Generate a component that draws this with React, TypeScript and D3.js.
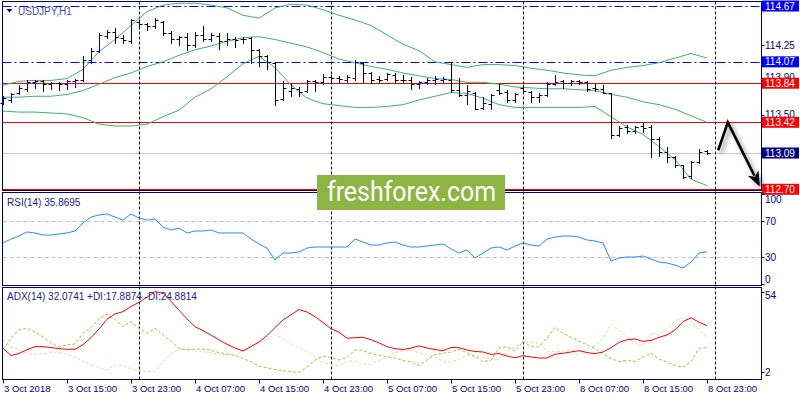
import React from "react";
import * as d3 from "d3";

// ---------- DATA ----------
const tickLabels = ["3 Oct 2018", "3 Oct 15:00", "3 Oct 23:00", "4 Oct 07:00", "4 Oct 15:00", "4 Oct 23:00", "5 Oct 07:00", "5 Oct 15:00", "5 Oct 23:00", "8 Oct 07:00", "8 Oct 15:00", "8 Oct 23:00"];
const tickBars = [0, 8, 16, 24, 32, 40, 48, 56, 64, 72, 80, 88];
const daySeparatorBars = [17, 41, 65, 89];

const opens = [113.63,113.66,113.73,113.78,113.85,113.86,113.83,113.84,113.83,113.86,
113.87,114.09,114.19,114.35,114.39,114.33,114.29,114.50,114.48,114.45,
114.50,114.38,114.31,114.34,114.25,114.36,114.31,114.35,114.29,114.31,
114.32,114.33,114.20,114.13,114.06,113.67,113.76,113.78,113.76,113.86,
113.85,113.91,113.90,113.88,113.90,114.06,113.95,113.89,113.89,113.93,
113.88,113.88,113.83,113.85,113.87,113.87,113.88,113.77,113.71,113.74,
113.57,113.62,113.77,113.75,113.66,113.79,113.75,113.69,113.71,113.83,
113.86,113.84,113.86,113.85,113.79,113.78,113.74,113.28,113.37,113.33,
113.38,113.37,113.24,113.10,113.05,112.96,112.84,112.99,113.11];
const highs = [113.70,113.74,113.82,113.87,113.88,113.87,113.85,113.85,113.88,113.89,
114.13,114.22,114.38,114.41,114.43,114.36,114.53,114.52,114.49,114.54,
114.51,114.40,114.35,114.38,114.39,114.45,114.38,114.38,114.38,114.34,
114.34,114.34,114.21,114.14,114.07,113.86,113.83,113.80,113.88,113.88,
113.94,113.93,113.92,113.93,114.09,114.07,113.96,113.92,113.95,113.95,
113.93,113.91,113.86,113.90,113.92,113.91,114.07,113.90,113.82,113.75,
113.69,113.72,113.83,113.77,113.73,113.82,113.76,113.73,113.85,113.93,
113.87,113.88,113.87,113.86,113.83,113.82,113.74,113.38,113.39,113.38,
113.41,113.39,113.26,113.15,113.06,112.96,113.00,113.13,113.12];
const lows = [113.62,113.64,113.72,113.76,113.79,113.76,113.78,113.77,113.78,113.80,
113.86,114.06,114.18,114.33,114.27,114.27,114.27,114.43,114.41,114.43,
114.36,114.27,114.25,114.20,114.23,114.29,114.29,114.21,114.25,114.23,
114.27,114.06,114.02,113.99,113.61,113.66,113.70,113.70,113.75,113.76,
113.83,113.85,113.85,113.85,113.88,113.85,113.84,113.85,113.88,113.85,
113.85,113.78,113.79,113.83,113.83,113.85,113.75,113.70,113.62,113.56,
113.56,113.56,113.72,113.64,113.64,113.73,113.64,113.64,113.70,113.82,
113.79,113.82,113.83,113.76,113.76,113.73,113.25,113.27,113.31,113.31,
113.32,113.05,113.06,112.99,112.94,112.82,112.82,112.98,113.08];
const closes = [113.68,113.72,113.79,113.85,113.86,113.83,113.84,113.83,113.86,113.88,
114.09,114.19,114.36,114.39,114.34,114.30,114.52,114.48,114.46,114.52,
114.38,114.31,114.34,114.25,114.36,114.31,114.36,114.29,114.31,114.30,
114.31,114.20,114.13,114.07,113.66,113.79,113.79,113.75,113.86,113.85,
113.91,113.90,113.89,113.91,114.07,113.95,113.88,113.88,113.94,113.87,
113.87,113.83,113.85,113.88,113.89,113.89,113.77,113.71,113.76,113.56,
113.63,113.71,113.73,113.66,113.72,113.76,113.69,113.71,113.83,113.85,
113.84,113.86,113.85,113.78,113.78,113.74,113.28,113.36,113.33,113.37,
113.36,113.24,113.10,113.05,112.96,112.83,112.99,113.10,113.09];

// Bollinger bands, read every 2nd bar
const bbBars = d3.range(0, 89, 2);
const bbUpper = [113.82,113.86,113.87,113.87,113.89,113.99,114.18,114.31,114.46,114.61,
114.68,114.70,114.70,114.68,114.65,114.57,114.54,114.65,114.69,114.68,
114.63,114.57,114.52,114.46,114.36,114.26,114.19,114.07,114.04,114.01,
114.04,114.04,114.03,114.00,113.98,113.95,113.93,113.92,113.98,114.01,
114.03,114.06,114.11,114.16,114.11];
const bbMiddle = [113.69,113.69,113.70,113.70,113.72,113.76,113.83,113.90,113.95,114.02,
114.07,114.14,114.20,114.24,114.29,114.33,114.34,114.31,114.27,114.23,
114.17,114.10,114.06,114.02,113.99,113.95,113.92,113.89,113.88,113.85,
113.85,113.83,113.80,113.79,113.78,113.78,113.77,113.76,113.72,113.69,
113.64,113.61,113.56,113.49,113.42];
const bbLower = [113.54,113.53,113.53,113.52,113.51,113.47,113.40,113.38,113.38,113.40,
113.48,113.55,113.69,113.78,113.91,114.05,114.13,114.01,113.82,113.68,
113.62,113.60,113.58,113.58,113.59,113.61,113.66,113.70,113.74,113.73,
113.68,113.61,113.58,113.58,113.58,113.58,113.58,113.59,113.48,113.37,
113.29,113.16,113.02,112.81,112.74];

const rsi = [45.6,50.0,53.3,57.8,56.7,54.4,54.4,55.6,56.7,58.9,
67.8,74.4,76.7,77.8,74.4,71.1,77.8,73.3,71.1,72.2,
63.3,60.0,62.2,56.7,58.9,58.9,60.0,56.7,56.7,56.7,
56.7,50.0,44.4,40.0,26.7,34.4,34.4,35.6,40.0,41.1,
41.1,41.1,41.1,41.1,50.0,46.7,43.3,43.3,45.6,46.7,
43.3,41.1,41.1,42.2,43.3,44.4,38.9,34.4,37.8,28.9,
34.4,40.0,41.1,37.8,42.2,45.6,43.3,42.2,50.0,52.2,
53.3,53.3,52.2,48.9,47.8,45.6,25.6,28.9,30.0,30.0,
31.1,27.8,24.4,23.3,21.1,17.8,24.4,34.4,35.87];

const adx = [17.47,12.83,14.12,16.57,18.50,18.50,17.92,17.28,16.83,16.83,
19.79,24.31,29.92,36.17,39.59,41.07,44.42,47.07,50.42,54.0,
53.0,47.71,41.97,36.43,31.40,28.82,25.98,22.95,20.05,17.67,
15.73,18.57,21.53,25.66,30.82,35.72,39.07,42.42,40.88,37.85,
34.04,30.05,27.79,23.98,24.31,24.56,23.02,20.95,18.50,17.21,
16.70,17.60,19.02,17.67,16.63,15.93,17.99,17.86,16.38,15.41,
15.09,13.54,14.12,12.51,11.35,12.70,11.86,11.22,11.22,13.67,
14.25,15.09,15.93,14.70,13.99,15.09,17.80,21.28,22.95,23.47,
21.92,22.50,24.56,26.05,29.27,34.62,37.14,34.30,32.07];
const plusDI = [16.38,24.11,29.27,30.37,27.98,24.76,20.89,18.31,19.60,20.25,
27.14,30.88,36.36,39.39,36.17,31.40,34.62,30.37,27.14,30.37,
26.05,22.18,17.34,16.38,17.02,17.02,16.18,14.70,13.80,12.83,
10.90,8.83,5.93,4.90,3.80,3.03,2.39,2.0,5.61,9.93,
12.51,11.54,9.93,11.54,16.38,16.05,14.12,12.89,12.06,11.22,
9.61,8.64,6.38,9.93,13.48,14.25,15.09,16.70,14.64,12.19,
8.83,9.80,17.67,18.50,15.73,21.73,18.50,18.44,24.11,31.01,
27.14,24.56,21.99,19.73,17.34,14.12,10.83,9.03,9.61,8.90,
11.86,14.25,10.57,8.58,6.51,5.29,8.64,17.47,17.89];
const minusDI = [22.82,18.31,16.57,14.12,13.28,13.99,14.57,15.09,13.80,11.54,
8.96,6.51,5.16,3.48,6.71,6.06,4.58,3.22,2.45,2.39,
8.83,13.99,16.57,17.02,16.18,15.28,14.44,13.80,13.15,13.15,
15.86,19.15,20.89,22.82,26.31,23.86,20.44,17.86,15.28,11.86,
8.45,7.03,6.12,9.09,9.35,7.35,7.03,9.61,11.54,14.76,
15.86,16.25,14.57,13.15,11.73,9.09,8.64,10.38,13.15,12.31,
11.67,10.96,10.06,15.22,18.63,21.53,21.34,20.76,15.28,15.28,
15.67,16.25,12.77,16.70,19.08,23.73,33.08,28.76,24.44,20.76,
18.96,27.08,26.11,29.53,34.88,37.46,34.43,29.08,24.88];

const priceScaleLabels = [114.25, 113.90, 113.50];
const dashDotLevels = [114.67, 114.07];
const redLevels = [113.84, 113.42, 112.70];
const bidPrice = 113.09;
const resistance = { fromBar: 73.4, price: 113.42 };
const boxLabels = [114.67, 114.07, 113.84, 113.42, 113.09, 112.70];
const boxKinds = ["blue", "blue", "red", "red", "bid", "red"];
const rsiLevels = [70, 30];
const rsiAxisLabels = [100, 70, 30, 0];
const adxAxisLabels = [54, 2];
const arrowPath = [
  { bar: 89.4, price: 113.12 },
  { bar: 90.6, price: 113.42 },
  { bar: 94.6, price: 112.73 },
];

// ---------- CHART ----------
const FONT = "'Liberation Sans', Arial, sans-serif";
const NAVY = "#000080";
const L = 2.5;
const R = 761.5;
const PRICE_TOP = 1.5, PRICE_BOT = 190.5;
const RSI_TOP = 192.5, RSI_BOT = 285.5;
const ADX_TOP = 287.5, ADX_BOT = 379.5;

export default function App() {
  const x = d3.scaleLinear().domain([0, 88]).range([3, 707]);
  const yP = d3.scaleLinear().domain([112.7, 114.67]).range([189.3, 6]);
  const yR = d3.scaleLinear().domain([0, 100]).range([284, 194]);
  const yA = d3.scaleLinear().domain([2, 54]).range([372.3, 291.6]);
  const cr = (v: number) => Math.round(v) + 0.5;

  const bbLine = (arr: number[]) =>
    d3.line<number>().x((_, k) => x(bbBars[k])).y((d) => yP(d))(arr) || "";
  const seriesLine = (arr: number[], y: d3.ScaleLinear<number, number>) =>
    d3.line<number>().x((_, i) => x(i)).y((d) => y(d))(arr) || "";

  const boxColor: Record<string, string> = { blue: "#0000ff", red: "#ff0000", bid: "#000080" };

  const arrowPts = arrowPath.map((p) => [x(p.bar), yP(p.price)] as [number, number]);
  const tip = arrowPts[arrowPts.length - 1];
  const prev = arrowPts[arrowPts.length - 2];
  const ang = Math.atan2(tip[1] - prev[1], tip[0] - prev[0]);
  const headLen = 15, headW = 6;
  const base: [number, number] = [tip[0] - headLen * Math.cos(ang), tip[1] - headLen * Math.sin(ang)];
  const head = [
    tip,
    [base[0] + headW * Math.sin(ang), base[1] - headW * Math.cos(ang)],
    [base[0] + 4 * Math.cos(ang), base[1] + 4 * Math.sin(ang)],
    [base[0] - headW * Math.sin(ang), base[1] + headW * Math.cos(ang)],
  ];
  const shaftEnd: [number, number] = [base[0] + 3 * Math.cos(ang), base[1] + 3 * Math.sin(ang)];

  return (
    <svg width={800} height={400} style={{ position: "absolute", left: 0, top: 0, background: "#fff" }} fontFamily={FONT}>
      <defs>
        <filter id="shLine" x="-10%" y="-200%" width="120%" height="600%">
          <feDropShadow dx="0" dy="3" stdDeviation="2" floodColor="#000" floodOpacity="0.45" />
        </filter>
        <filter id="shArrow" x="-50%" y="-50%" width="200%" height="200%">
          <feDropShadow dx="3" dy="3" stdDeviation="2" floodColor="#000" floodOpacity="0.4" />
        </filter>
      </defs>
      <rect x={0} y={0} width={800} height={400} fill="#fff" />

      {/* price panel horizontal levels */}
      <line x1={L} x2={R} y1={cr(yP(bidPrice))} y2={cr(yP(bidPrice))} stroke="#c8c8c8" />
      {dashDotLevels.map((p) => (
        <line key={p} x1={L} x2={R} y1={cr(yP(p))} y2={cr(yP(p))} stroke="#0000ff" strokeDasharray="9,3,2,3" />
      ))}
      {redLevels.map((p) => (
        <line key={p} x1={L} x2={R} y1={cr(yP(p))} y2={cr(yP(p))} stroke="#ff0000" />
      ))}
      <line x1={x(resistance.fromBar)} x2={R} y1={cr(yP(resistance.price))} y2={cr(yP(resistance.price))} stroke="#0000cc" strokeWidth={1.2} filter="url(#shLine)" />

      {/* RSI levels */}
      {rsiLevels.map((v) => (
        <line key={v} x1={L} x2={R} y1={cr(yR(v))} y2={cr(yR(v))} stroke="#c0c0c0" strokeDasharray="4,3" />
      ))}

      {/* day separators */}
      {daySeparatorBars.map((b) => (
        <line key={b} x1={cr(x(b))} x2={cr(x(b))} y1={PRICE_TOP} y2={ADX_BOT} stroke={NAVY} strokeDasharray="3,2" />
      ))}

      {/* Bollinger bands */}
      {[bbUpper, bbMiddle, bbLower].map((arr, k) => (
        <path key={k} d={bbLine(arr)} fill="none" stroke="#3cb371" strokeWidth={1} />
      ))}

      {/* OHLC bars */}
      {opens.map((o, i) => {
        const c = closes[i];
        const col = c > o ? "#0000a8" : "#000000";
        const xi = cr(x(i));
        return (
          <g key={i} stroke={col}>
            <line x1={xi} x2={xi} y1={Math.round(yP(highs[i]))} y2={Math.round(yP(lows[i])) + 1} />
            <line x1={xi - 3} x2={xi} y1={cr(yP(o))} y2={cr(yP(o))} />
            <line x1={xi} x2={xi + 3} y1={cr(yP(c))} y2={cr(yP(c))} />
          </g>
        );
      })}

      {/* RSI */}
      <path d={seriesLine(rsi, yR)} fill="none" stroke="#1e90ff" strokeWidth={1} />

      {/* ADX */}
      <path d={seriesLine(minusDI, yA)} fill="none" stroke="#f5d5a5" strokeWidth={1} strokeDasharray="3,2" />
      <path d={seriesLine(plusDI, yA)} fill="none" stroke="#9acd32" strokeWidth={1} strokeDasharray="3,2" />
      <path d={seriesLine(adx, yA)} fill="none" stroke="#ff0000" strokeWidth={1} />

      {/* arrow */}
      <g filter="url(#shArrow)">
        <polyline points={[...arrowPts.slice(0, -1), shaftEnd].map((p) => p.join(",")).join(" ")} fill="none" stroke="#000" strokeWidth={2.6} strokeLinejoin="miter" />
        <polygon points={head.map((p) => p.join(",")).join(" ")} fill="#000" />
      </g>

      {/* panel frames */}
      <rect x={L} y={PRICE_TOP} width={R - L} height={PRICE_BOT - PRICE_TOP} fill="none" stroke={NAVY} />
      <rect x={L} y={RSI_TOP} width={R - L} height={RSI_BOT - RSI_TOP} fill="none" stroke={NAVY} />
      <rect x={L} y={ADX_TOP} width={R - L} height={ADX_BOT - ADX_TOP} fill="none" stroke={NAVY} />

      {/* price axis labels */}
      {priceScaleLabels.map((p) => (
        <g key={p}>
          <line x1={R} x2={R + 3} y1={cr(yP(p))} y2={cr(yP(p))} stroke={NAVY} />
          <text x={765} y={yP(p) + 3.5} fontSize={10} fill={NAVY}>{p.toFixed(2)}</text>
        </g>
      ))}
      {boxLabels.map((p, k) => (
        <g key={p}>
          <rect x={762} y={yP(p) - 5.5} width={37} height={11} fill={boxColor[boxKinds[k]]} />
          <text x={765} y={yP(p) + 3.6} fontSize={10} fill="#fff">{p.toFixed(2)}</text>
        </g>
      ))}

      {/* RSI axis labels */}
      {rsiAxisLabels.map((v) => {
        const yy = v === 100 ? yR(v) + 5 : v === 0 ? yR(v) - 5 : yR(v);
        return (
          <g key={v}>
            <line x1={R} x2={R + 3} y1={cr(yR(v))} y2={cr(yR(v))} stroke={NAVY} />
            <text x={765} y={yy + 3.5} fontSize={10} fill={NAVY}>{v}</text>
          </g>
        );
      })}
      {adxAxisLabels.map((v) => {
        const yy = v === 54 ? yA(v) + 3.5 : yA(v);
        return (
          <g key={v}>
            <line x1={R} x2={R + 3} y1={cr(yA(v))} y2={cr(yA(v))} stroke={NAVY} />
            <text x={765} y={yy + 3.5} fontSize={10} fill={NAVY}>{v}</text>
          </g>
        );
      })}

      {/* time axis */}
      {tickBars.map((b, k) => (
        <g key={b}>
          <line x1={cr(x(b))} x2={cr(x(b))} y1={ADX_BOT} y2={ADX_BOT + 4} stroke={NAVY} />
          <text x={x(b) + 1} y={392} fontSize={9.5} fill={NAVY}>{tickLabels[k]}</text>
        </g>
      ))}

      {/* titles */}
      <path d="M6.5,9 L12.5,9 L9.5,12.5 Z" fill={NAVY} />
      <text x={18} y={14.5} fontSize={10} fill="#4848b0">USDJPY,H1</text>
      <text x={7} y={205.5} fontSize={10} fill="#202090">RSI(14) 35.8695</text>
      <text x={7} y={300} fontSize={10} fill="#202090">ADX(14) 32.0741 +DI:17.8874 -DI:24.8814</text>

      {/* watermark */}
      <rect x={317} y={175} width={188} height={35} fill="#8db544" />
      <text x={327} y={201} fontSize={27} fill="#fff" fontFamily="Roboto, 'Open Sans', sans-serif" textLength={169} lengthAdjust="spacingAndGlyphs">freshforex.com</text>
    </svg>
  );
}
